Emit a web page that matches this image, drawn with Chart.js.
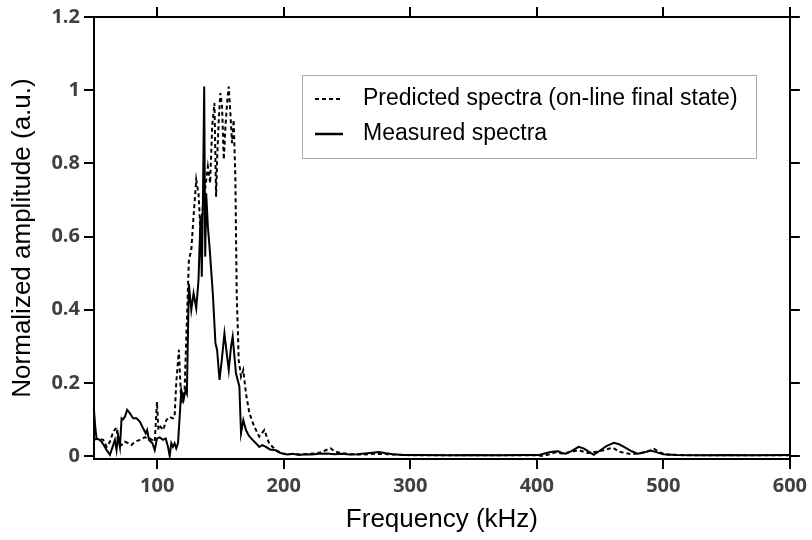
<!DOCTYPE html>
<html>
<head>
<meta charset="utf-8">
<title>Spectra</title>
<script src="https://cdn.jsdelivr.net/npm/chart.js@4.4.1/dist/chart.umd.min.js"></script>
<style>
    html, body { margin: 0; padding: 0; background: #fff; }
    #wrap { width: 812px; height: 540px; }
</style>
</head>
<body>
<div id="wrap"><canvas id="spectraChart" width="812" height="540"></canvas></div>
<script>
// Measured spectra (solid line)
const measuredFreq = [50, 51, 52, 54, 56, 58, 60, 62.6, 64.7, 66.5, 67.8, 69, 70.5, 71.8, 73, 74.4, 76.2, 78.3, 80, 81,
    83.6, 86.2, 88.8, 90.9, 92, 93.5, 96.2, 98, 99.8, 101.9, 104.6, 106.7, 108.5, 109.8, 111.1, 112.4, 113.7, 115, 116.4, 117.7,
    119, 120.8, 122.4, 123.4, 125, 126.9, 128.7, 130.8, 132.6, 134.2, 135.2, 136, 137.1, 137.9, 138.7, 140, 141.3, 143.9, 146, 147.3,
    149.2, 151, 153.1, 154.9, 156.5, 158.3, 159.6, 162.2, 164.9, 166.2, 168, 170.1, 172.5, 175.4, 178, 180.6, 183, 185.9, 189, 193.7,
    196, 199, 203, 207, 212, 217, 222, 228, 234, 240, 246, 252, 258, 264, 270, 275, 280, 286, 295, 310,
    330, 350, 370, 390, 402, 406, 410, 414, 417, 420, 423, 428, 433, 437, 441, 445, 450, 455, 461, 465,
    470, 475, 480, 485, 490, 495, 500, 510, 530, 550, 570, 600];
const measuredAmp = [0.125, 0.08, 0.048, 0.045, 0.039, 0.028, 0.016, 0.003, 0.025, 0.044, 0.016, 0.057, 0.025, 0.103, 0.1, 0.107, 0.126, 0.117, 0.108, 0.103,
    0.103, 0.094, 0.076, 0.062, 0.071, 0.044, 0.035, 0.016, 0.048, 0.051, 0.044, 0.048, 0.025, 0.0, 0.035, 0.025, 0.035, 0.021, 0.035, 0.107,
    0.18, 0.153, 0.18, 0.171, 0.47, 0.399, 0.445, 0.404, 0.481, 0.654, 0.49, 0.673, 1.01, 0.545, 0.718, 0.627, 0.573, 0.445, 0.308, 0.29,
    0.208, 0.262, 0.335, 0.281, 0.235, 0.299, 0.326, 0.226, 0.19, 0.062, 0.098, 0.071, 0.055, 0.044, 0.035, 0.025, 0.03, 0.025, 0.018, 0.016,
    0.01, 0.007, 0.004, 0.006, 0.003, 0.005, 0.004, 0.006, 0.007, 0.005, 0.006, 0.004, 0.005, 0.007, 0.009, 0.011, 0.008, 0.005, 0.003, 0.003,
    0.002, 0.003, 0.002, 0.003, 0.003, 0.007, 0.01, 0.012, 0.013, 0.008, 0.006, 0.015, 0.025, 0.021, 0.012, 0.003, 0.015, 0.027, 0.036, 0.032,
    0.023, 0.013, 0.006, 0.01, 0.015, 0.01, 0.005, 0.003, 0.002, 0.003, 0.002, 0.003];

// Predicted spectra (dashed line)
const predictedFreq = [50, 53.4, 57.3, 60, 62.6, 65.2, 67.8, 69.1, 71.8, 74.4, 77, 79.6, 82.3, 86.2, 90.1, 94.1, 98, 99.8, 100.9, 102.5,
    104.6, 107.2, 109.8, 112.4, 113.7, 115, 117.1, 119, 121.6, 125, 126.9, 128.8, 130.8, 132.6, 134.2, 136, 138.1, 140, 141.8, 143.4,
    145.2, 146.5, 147.3, 148.6, 149.9, 151.2, 152.6, 153.9, 155.2, 156.5, 157.8, 159.1, 160.4, 161.7, 162.8, 164.4, 166.2, 168, 170.1, 172.8,
    176.7, 180.6, 184.6, 188.5, 193.7, 199, 203, 208, 214, 220, 226, 231, 234, 237, 240, 245, 252, 262, 272, 282,
    300, 350, 400, 405, 410, 415, 420, 428, 433, 440, 448, 455, 460, 465, 470, 475, 481, 488, 493, 497,
    502, 520, 560, 600];
const predictedAmp = [0.044, 0.048, 0.044, 0.025, 0.039, 0.066, 0.078, 0.039, 0.03, 0.039, 0.035, 0.03, 0.039, 0.044, 0.051, 0.048, 0.039, 0.148, 0.071, 0.08,
    0.071, 0.098, 0.107, 0.103, 0.107, 0.199, 0.29, 0.144, 0.18, 0.536, 0.563, 0.66, 0.755, 0.718, 0.609, 0.682, 0.737, 0.791, 0.746, 0.901,
    0.965, 0.709, 0.81, 0.919, 0.992, 0.956, 0.81, 0.901, 0.965, 1.01, 0.937, 0.855, 0.919, 0.764, 0.445, 0.262, 0.217, 0.235, 0.171, 0.117,
    0.08, 0.053, 0.071, 0.034, 0.016, 0.007, 0.004, 0.006, 0.004, 0.006, 0.007, 0.012, 0.017, 0.021, 0.013, 0.008, 0.005, 0.004, 0.006, 0.005,
    0.002, 0.002, 0.002, 0.0, 0.005, 0.01, 0.007, 0.012, 0.016, 0.008, 0.012, 0.018, 0.023, 0.012, 0.008, 0.005, 0.007, 0.013, 0.019, 0.01,
    0.004, 0.002, 0.002, 0.002];

const xTickValues = [100, 200, 300, 400, 500, 600];
const yTickValues = [0, 0.2, 0.4, 0.6, 0.8, 1, 1.2];
const legendLabels = ['Predicted spectra (on-line final state)', 'Measured spectra'];

function toPoints(xs, ys) {
    return xs.map((x, i) => ({ x: x, y: ys[i] }));
}

const frameBorder = { display: true, color: '#000', width: 2 };
const tickGrid = { display: true, drawOnChartArea: false, drawTicks: true, tickLength: 10, color: '#000', lineWidth: 2 };
const tickFont = { family: "'Open Sans', sans-serif", weight: 'bold', size: 20 };
const titleFont = { family: "'Liberation Sans', Arial, sans-serif", size: 26 };

// Legend box drawn inside the plot, like the original figure
const boxLegend = {
    id: 'boxLegend',
    afterDraw(chart) {
        const ctx = chart.ctx;
        ctx.save();
        ctx.fillStyle = '#fff';
        ctx.fillRect(302, 75, 454, 83);
        ctx.strokeStyle = '#555';
        ctx.lineWidth = 1;
        ctx.setLineDash([1, 1]);
        ctx.strokeRect(302.5, 75.5, 454, 83);

        // dashed sample
        ctx.strokeStyle = '#000';
        ctx.lineWidth = 2;
        ctx.setLineDash([4, 3]);
        ctx.beginPath();
        ctx.moveTo(315, 99);
        ctx.lineTo(343, 99);
        ctx.stroke();

        // solid sample
        ctx.setLineDash([]);
        ctx.lineWidth = 2.5;
        ctx.beginPath();
        ctx.moveTo(315, 134);
        ctx.lineTo(343, 134);
        ctx.stroke();

        ctx.fillStyle = '#000';
        ctx.font = "23px 'Liberation Sans', Arial, sans-serif";
        ctx.textBaseline = 'middle';
        ctx.textAlign = 'left';
        ctx.fillText(legendLabels[0], 363, 99);
        ctx.fillText(legendLabels[1], 363, 134);
        ctx.restore();
    }
};

const ctx = document.getElementById('spectraChart').getContext('2d');
const spectraChart = new Chart(ctx, {
    type: 'line',
    data: {
        datasets: [
            {
                label: legendLabels[1],
                data: toPoints(measuredFreq, measuredAmp),
                borderColor: '#000',
                borderWidth: 2,
                pointRadius: 0,
                tension: 0,
                fill: false
            },
            {
                label: legendLabels[0],
                data: toPoints(predictedFreq, predictedAmp),
                borderColor: '#000',
                borderWidth: 2,
                borderDash: [4, 3],
                pointRadius: 0,
                tension: 0,
                fill: false
            }
        ]
    },
    options: {
        responsive: false,
        animation: false,
        devicePixelRatio: 1,
        layout: { padding: 0 },
        plugins: {
            legend: { display: false },
            tooltip: { enabled: false }
        },
        scales: {
            x: {
                type: 'linear',
                position: 'bottom',
                min: 50,
                max: 600,
                afterBuildTicks: scale => { scale.ticks = xTickValues.map(v => ({ value: v })); },
                afterFit: scale => { scale.height = 81; },
                grid: tickGrid,
                border: frameBorder,
                ticks: { color: '#404040', font: tickFont, padding: 5, maxRotation: 0, autoSkip: false },
                title: {
                    display: true,
                    text: 'Frequency (kHz)',
                    color: '#000',
                    font: titleFont,
                    padding: { top: 0, bottom: 5 }
                }
            },
            xTop: {
                type: 'linear',
                position: 'top',
                min: 50,
                max: 600,
                afterBuildTicks: scale => { scale.ticks = xTickValues.map(v => ({ value: v })); },
                afterFit: scale => { scale.height = 17; },
                grid: tickGrid,
                border: frameBorder,
                ticks: { display: false }
            },
            y: {
                type: 'linear',
                position: 'left',
                min: -0.0082,
                max: 1.2,
                afterBuildTicks: scale => { scale.ticks = yTickValues.map(v => ({ value: v })); },
                afterFit: scale => { scale.width = 94; },
                grid: tickGrid,
                border: frameBorder,
                ticks: {
                    color: '#404040',
                    font: tickFont,
                    padding: 4,
                    callback: value => String(+value.toFixed(1))
                },
                title: {
                    display: true,
                    text: 'Normalized amplitude (a.u.)',
                    color: '#000',
                    font: titleFont,
                    padding: { top: 7, bottom: 0 }
                }
            },
            yRight: {
                type: 'linear',
                position: 'right',
                min: -0.0082,
                max: 1.2,
                afterBuildTicks: scale => { scale.ticks = yTickValues.map(v => ({ value: v })); },
                afterFit: scale => { scale.width = 19; },
                grid: tickGrid,
                border: frameBorder,
                ticks: { display: false }
            }
        }
    },
    plugins: [boxLegend]
});
</script>
</body>
</html>
